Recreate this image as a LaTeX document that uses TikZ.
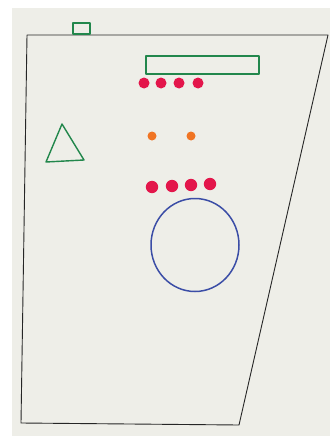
\documentclass[tikz,border=0pt]{standalone}
\definecolor{paper}{HTML}{EEEEE8}
\definecolor{penGreen}{HTML}{22874C}
\definecolor{penRed}{HTML}{E3164B}
\definecolor{penOrange}{HTML}{F07423}
\definecolor{penBlue}{HTML}{3B4DA6}
\begin{document}
\begin{tikzpicture}[x=1pt, y=-1pt, line join=round]
  \useasboundingbox (0,0) rectangle (330,436);
  \fill[white] (0,0) rectangle (330,436);
  \fill[paper] (12,8) rectangle (330,436);
  \draw[black!85, line width=0.9pt] (27,35) -- (328,35) -- (239,425) -- (21,423) -- cycle;
  \draw[penGreen, line width=1.3pt] (73,23) rectangle (90,34);
  \draw[penGreen, line width=1.4pt] (146,56) rectangle (259,74);
  \draw[penGreen, line width=1.4pt] (62,124) -- (84,160) -- (46,162) -- cycle;
  \foreach \x in {144,161,179,198}
    \fill[penRed] (\x,83) circle (5.5);
  \foreach \x in {152,191}
    \fill[penOrange] (\x,136) circle (4.5);
  \foreach \x/\y in {152/187,172/186,191/185,210/184}
    \fill[penRed] (\x,\y) circle (6.2);
  \draw[penBlue, line width=1.5pt] (195,245) ellipse (44 and 46.5);
\end{tikzpicture}
\end{document}
